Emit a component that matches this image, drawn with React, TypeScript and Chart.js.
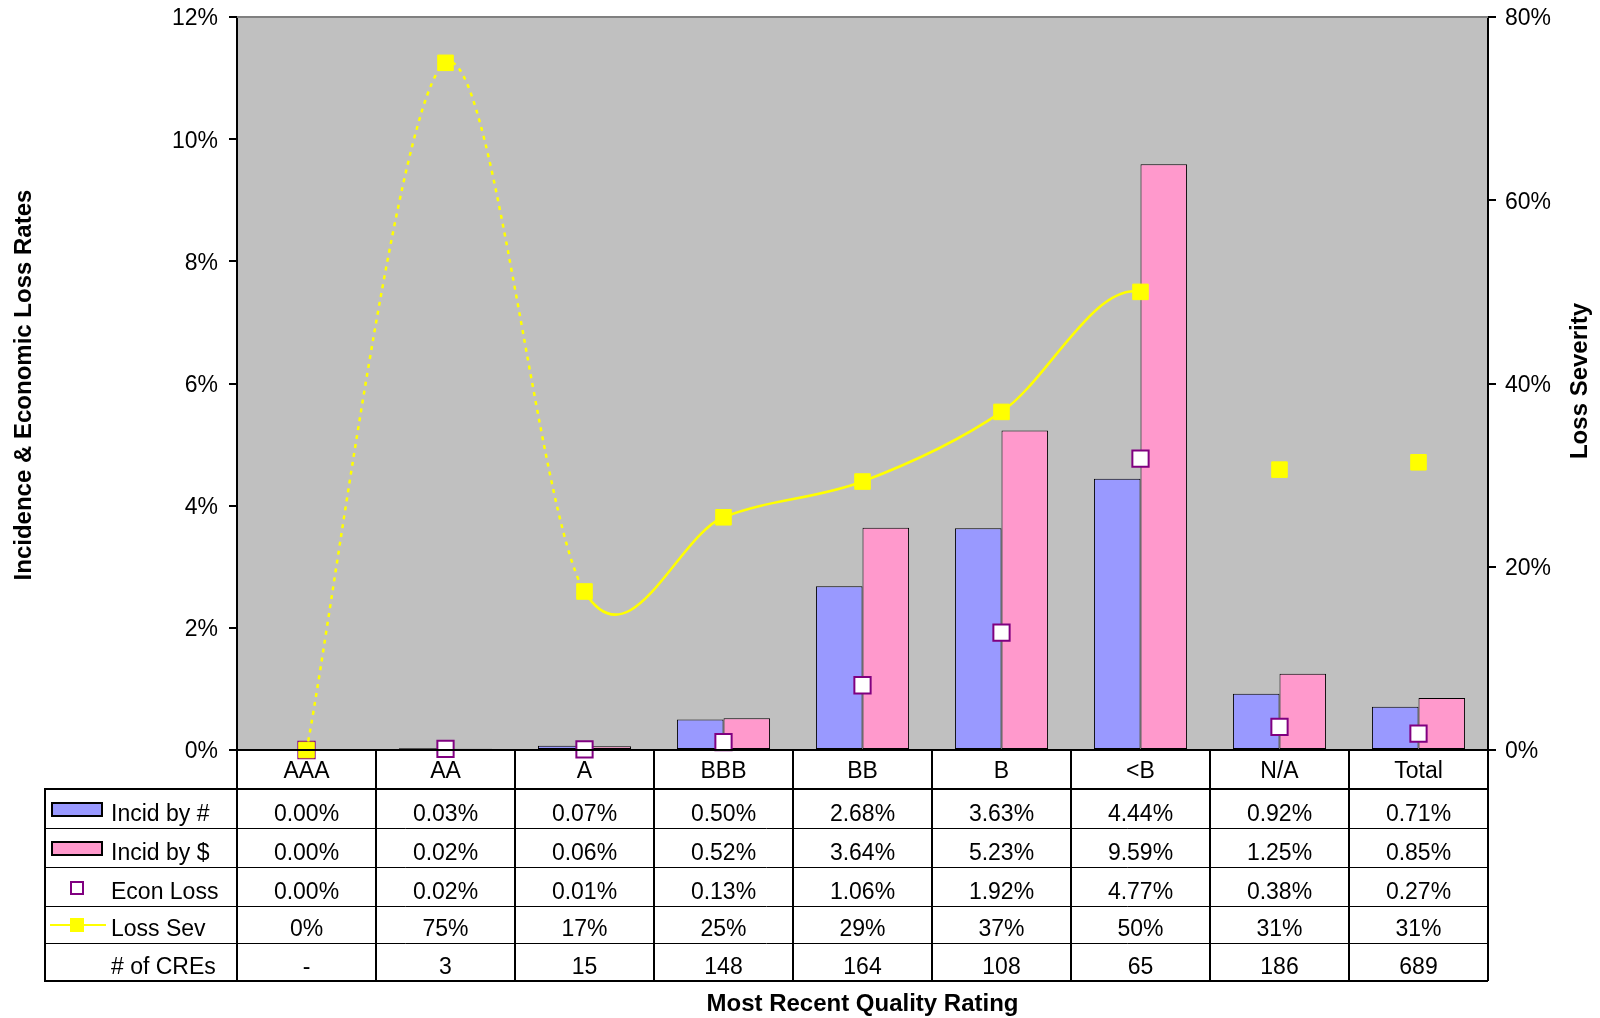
import React, { useEffect, useRef } from 'react';
import { Chart, registerables } from 'chart.js';

Chart.register(...registerables);

// ---- data ----
const categories = ['AAA', 'AA', 'A', 'BBB', 'BB', 'B', '<B', 'N/A', 'Total'];
const incidByCount = [0.0, 0.03, 0.07, 0.5, 2.68, 3.63, 4.44, 0.92, 0.71];
const incidByDollar = [0.0, 0.02, 0.06, 0.52, 3.64, 5.23, 9.59, 1.25, 0.85];
const econLoss = [0.0, 0.02, 0.01, 0.13, 1.06, 1.92, 4.77, 0.38, 0.27];
const lossSev = [0, 75, 17.3, 25.4, 29.3, 36.9, 50, 30.6, 31.4];
const creCounts: (number | null)[] = [null, 3, 15, 148, 164, 108, 65, 186, 689];
const rowLabels = ['Incid by #', 'Incid by $', 'Econ Loss', 'Loss Sev', '# of CREs'];
const leftAxisRange = [0, 12, 2];
const rightAxisRange = [0, 80, 20];

const BLUE = '#9999FF';
const PINK = '#FF99CC';
const PURPLE = '#800080';
const YELLOW = '#FFFF00';
const FONT = '"Liberation Sans", Arial, sans-serif';

// table layout (offsets below the plot area)
const ROW_OFFSETS = [0, 39, 78, 117, 156, 193, 231];
const TABLE_LEFT = 45;

const fmtPct2 = (v: number) => v.toFixed(2) + '%';
const fmtPct0 = (v: number) => Math.round(v) + '%';

// Excel-style smoothing (uniform Catmull-Rom, 1/6 factor) for the Loss Sev line
const smoothPlugin = {
  id: 'excelSmooth',
  beforeDatasetDraw(chart: any, args: any) {
    const meta = args.meta;
    if (!meta || meta.type !== 'line' || meta.index !== 0) return;
    const line = meta.dataset;
    if (line && line.updateControlPoints) line.updateControlPoints(chart.chartArea, 'x');
    const pts = meta.data;
    const n = pts.length;
    const k = 1 / 6;
    for (let i = 0; i < n; i++) {
      const p = pts[i];
      const prev = pts[Math.max(i - 1, 0)];
      const next = pts[Math.min(i + 1, n - 1)];
      const dx = next.x - prev.x;
      const dy = next.y - prev.y;
      p.cp1x = p.x - k * dx;
      p.cp1y = p.y - k * dy;
      p.cp2x = p.x + k * dx;
      p.cp2y = p.y + k * dy;
    }
  },
};

const tablePlugin = {
  id: 'tablePlugin',
  beforeDraw(chart: any) {
    const { ctx, chartArea: a } = chart;
    ctx.save();
    ctx.fillStyle = '#C0C0C0';
    ctx.fillRect(a.left, a.top, a.right - a.left, a.bottom - a.top);
    ctx.restore();
  },
  afterDraw(chart: any) {
    const { ctx, chartArea: a, scales } = chart;
    const xs = scales.x;
    const n = categories.length;
    const colW = (a.right - a.left) / n;
    const rows = ROW_OFFSETS.map((o) => a.bottom + o);
    ctx.save();

    // top gray border of plot
    ctx.strokeStyle = '#808080';
    ctx.lineWidth = 2;
    ctx.beginPath();
    ctx.moveTo(a.left, a.top);
    ctx.lineTo(a.right, a.top);
    ctx.stroke();

    // x axis line
    ctx.strokeStyle = '#000';
    ctx.lineWidth = 2;
    ctx.beginPath();
    ctx.moveTo(a.left - 8, a.bottom);
    ctx.lineTo(a.right + 8, a.bottom);
    ctx.stroke();

    // vertical column lines
    for (let i = 0; i <= n; i++) {
      const x = Math.round(a.left + i * colW);
      ctx.beginPath();
      ctx.moveTo(x, rows[0]);
      ctx.lineTo(x, rows[6]);
      ctx.stroke();
    }
    // legend column left border
    ctx.beginPath();
    ctx.moveTo(TABLE_LEFT, rows[1] - 1);
    ctx.lineTo(TABLE_LEFT, rows[6] + 1);
    ctx.stroke();
    // horizontal lines
    for (let r = 1; r <= 6; r++) {
      ctx.lineWidth = r === 1 || r === 6 ? 2 : 1;
      const y = r === 1 || r === 6 ? rows[r] : rows[r] + 0.5;
      ctx.beginPath();
      ctx.moveTo(TABLE_LEFT, y);
      ctx.lineTo(a.right, y);
      ctx.stroke();
    }

    // text
    ctx.fillStyle = '#000';
    ctx.font = `23px ${FONT}`;
    ctx.textAlign = 'center';
    ctx.textBaseline = 'alphabetic';
    const rowData: string[][] = [
      incidByCount.map(fmtPct2),
      incidByDollar.map(fmtPct2),
      econLoss.map(fmtPct2),
      lossSev.map(fmtPct0),
      creCounts.map((c) => (c == null ? '-' : String(c))),
    ];
    categories.forEach((c, i) => {
      const cx = xs.getPixelForValue(i);
      ctx.fillText(c, cx, rows[0] + 28);
      rowData.forEach((vals, r) => {
        ctx.fillText(vals[i], cx, rows[r + 2] - 7);
      });
    });

    // legend labels
    ctx.textAlign = 'left';
    rowLabels.forEach((lab, r) => {
      ctx.fillText(lab, 111, rows[r + 2] - 7);
    });

    // swatches
    [BLUE, PINK].forEach((col, r) => {
      const top = rows[r + 1] + 14;
      ctx.fillStyle = col;
      ctx.fillRect(52, top, 50, 13);
      ctx.strokeStyle = '#000';
      ctx.lineWidth = 2;
      ctx.strokeRect(52, top, 50, 13);
    });
    // econ loss legend marker
    ctx.fillStyle = '#fff';
    ctx.strokeStyle = PURPLE;
    ctx.lineWidth = 2;
    ctx.fillRect(71, rows[3] + 15, 12, 12);
    ctx.strokeRect(71, rows[3] + 15, 12, 12);
    // loss sev legend
    const ly = rows[4] + 19;
    ctx.strokeStyle = YELLOW;
    ctx.lineWidth = 2;
    ctx.beginPath();
    ctx.moveTo(50, ly);
    ctx.lineTo(106, ly);
    ctx.stroke();
    ctx.fillStyle = YELLOW;
    ctx.fillRect(70, ly - 7, 14, 14);

    // titles
    ctx.fillStyle = '#000';
    ctx.font = `bold 24px ${FONT}`;
    ctx.textAlign = 'center';
    ctx.fillText('Most Recent Quality Rating', (a.left + a.right) / 2, 1011);

    ctx.save();
    ctx.translate(31, 385);
    ctx.rotate(-Math.PI / 2);
    ctx.fillText('Incidence & Economic Loss Rates', 0, 0);
    ctx.restore();

    ctx.save();
    ctx.translate(1587, 381);
    ctx.rotate(-Math.PI / 2);
    ctx.fillText('Loss Severity', 0, 0);
    ctx.restore();

    ctx.restore();
  },
};

export default function App() {
  const ref = useRef<HTMLCanvasElement>(null);

  useEffect(() => {
    if (!ref.current) return;
    const tickFont = { family: FONT, size: 23 };
    const chart = new Chart(ref.current, {
      type: 'bar',
      data: {
        labels: categories,
        datasets: [
          {
            type: 'line',
            label: 'Loss Sev',
            data: lossSev,
            yAxisID: 'y2',
            order: 0,
            borderColor: YELLOW,
            borderWidth: 2.5,
            tension: 0.33,
            fill: false,
            pointStyle: 'rect',
            pointRadius: 11,
            pointHoverRadius: 11,
            pointBackgroundColor: YELLOW,
            pointBorderColor: YELLOW,
            pointBorderWidth: 1,
            clip: false,
            segment: {
              borderColor: (c: any) => (c.p0DataIndex >= 6 ? 'rgba(0,0,0,0)' : undefined),
              borderDash: (c: any) => (c.p0DataIndex < 2 ? [4, 5] : undefined),
            },
          } as any,
          {
            type: 'line',
            label: 'Econ Loss',
            data: econLoss,
            yAxisID: 'y',
            order: 1,
            showLine: false,
            pointStyle: 'rect',
            pointRadius: 11.5,
            pointHoverRadius: 11.5,
            pointBackgroundColor: '#FFFFFF',
            pointBorderColor: PURPLE,
            pointBorderWidth: 2,
            clip: false,
          } as any,
          {
            type: 'bar',
            label: 'Incid by #',
            data: incidByCount,
            yAxisID: 'y',
            order: 2,
            backgroundColor: BLUE,
            borderColor: '#000',
            borderWidth: 1,
            borderSkipped: false,
            categoryPercentage: 0.67,
            barPercentage: 1.0,
          } as any,
          {
            type: 'bar',
            label: 'Incid by $',
            data: incidByDollar,
            yAxisID: 'y',
            order: 2,
            backgroundColor: PINK,
            borderColor: '#000',
            borderWidth: 1,
            borderSkipped: false,
            categoryPercentage: 0.67,
            barPercentage: 1.0,
          } as any,
        ],
      },
      options: {
        animation: false,
        responsive: false,
        maintainAspectRatio: false,
        events: [],
        layout: { padding: { left: 0, right: 0, top: 17, bottom: 268 } },
        plugins: {
          legend: { display: false },
          tooltip: { enabled: false },
        },
        scales: {
          x: {
            display: false,
            offset: true,
          },
          y: {
            position: 'left',
            min: leftAxisRange[0],
            max: leftAxisRange[1],
            ticks: {
              stepSize: leftAxisRange[2],
              padding: 11,
              labelOffset: 2,
              color: '#000',
              font: tickFont,
              callback: (v: any) => v + '%',
            },
            grid: {
              drawOnChartArea: false,
              drawTicks: true,
              tickLength: 8,
              color: '#000',
              lineWidth: 2,
            },
            border: { display: true, color: '#000', width: 2 },
            afterFit: (s: any) => {
              s.width = 237;
              s.paddingTop = 0;
              s.paddingBottom = 0;
            },
          },
          y2: {
            position: 'right',
            min: rightAxisRange[0],
            max: rightAxisRange[1],
            ticks: {
              stepSize: rightAxisRange[2],
              padding: 9,
              labelOffset: 2,
              color: '#000',
              font: tickFont,
              callback: (v: any) => v + '%',
            },
            grid: {
              drawOnChartArea: false,
              drawTicks: true,
              tickLength: 8,
              color: '#000',
              lineWidth: 2,
            },
            border: { display: true, color: '#000', width: 2 },
            afterFit: (s: any) => {
              s.width = 112;
              s.paddingTop = 0;
              s.paddingBottom = 0;
            },
          },
        },
      } as any,
      plugins: [smoothPlugin, tablePlugin],
    });
    return () => chart.destroy();
  }, []);

  return (
    <div style={{ position: 'absolute', left: 0, top: 0, width: 1600, height: 1018, background: '#fff' }}>
      <canvas ref={ref} width={1600} height={1018} style={{ display: 'block', width: 1600, height: 1018 }} />
    </div>
  );
}
